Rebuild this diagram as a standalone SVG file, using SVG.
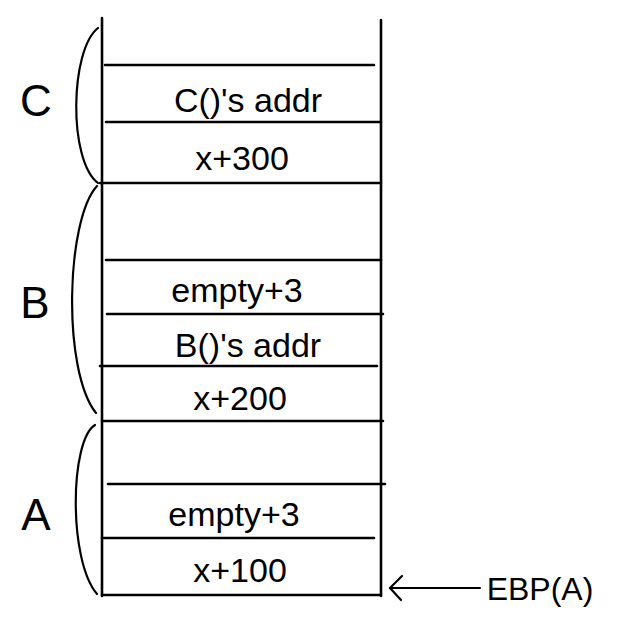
<svg xmlns="http://www.w3.org/2000/svg" width="632" height="642" viewBox="0 0 632 642">
<defs>
<style>
.ln{stroke:#000;stroke-width:2.6;fill:none;stroke-linecap:round}
.br{stroke:#000;stroke-width:2.2;fill:none;stroke-linecap:round;stroke-linejoin:round}
.t{font-family:"Liberation Sans",Arial,sans-serif;font-size:34px;fill:#000;text-anchor:middle}
.lb{font-family:"Liberation Sans",Arial,sans-serif;font-size:44px;fill:#000;text-anchor:middle}
</style>
</defs>
<rect width="632" height="642" fill="#fff"/>
<g id="stack">
<path class="ln" d="M102,18 V596 M381,20 V596"/>
<path class="ln" d="M105,65 H374 M106,122 H381 M100,183 H381 M106,260 H381 M107,314 H383 M100,366 H377 M102,421 H383 M108,484 H385 M102,538 H374 M102,595 H381"/>
</g>
<g id="cells">
<text class="t" x="248" y="112">C()'s addr</text>
<text class="t" x="242" y="170">x+300</text>
<text class="t" x="237" y="302">empty+3</text>
<text class="t" x="248" y="357">B()'s addr</text>
<text class="t" x="240" y="410">x+200</text>
<text class="t" x="234" y="526">empty+3</text>
<text class="t" x="240" y="582">x+100</text>
</g>
<g id="group-C">
<path class="br" d="M98,28 C70,50 68,160 98,183"/>
<text class="lb" x="36" y="116">C</text>
</g>
<g id="group-B">
<path class="br" d="M97,186 C66,220 62,370 96,413"/>
<text class="lb" x="35" y="318">B</text>
</g>
<g id="group-A">
<path class="br" d="M95,425 C70,440 68,560 97,594"/>
<text class="lb" x="36" y="530">A</text>
</g>
<g id="connectors">
<path class="br" d="M480,588 H390"/>
<path class="br" d="M402,576 L390,588 L401,600"/>
</g>
<g id="ebp">
<text class="t" x="540" y="600" style="font-size:32px">EBP(A)</text>
</g>
</svg>
